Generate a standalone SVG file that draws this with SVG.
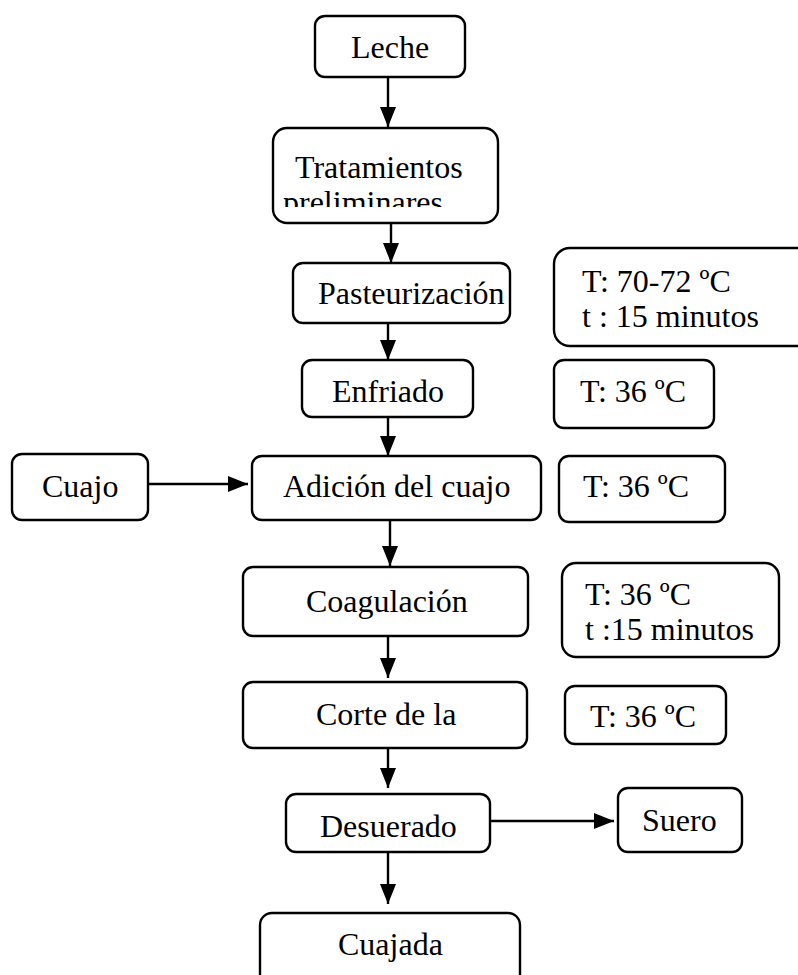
<svg xmlns="http://www.w3.org/2000/svg" width="798" height="975" viewBox="0 0 798 975">
<style>
.box{fill:#fff;stroke:#000;stroke-width:2.4}
.t{font-family:"Liberation Serif","Times New Roman",serif;font-size:32px;fill:#000}
.c{text-anchor:middle}
.ln{stroke:#000;stroke-width:2.4;fill:none;marker-end:url(#ah)}
</style>
<defs>
<marker id="ah" markerUnits="userSpaceOnUse" markerWidth="20" markerHeight="16" viewBox="0 0 20 16" refX="20" refY="8" orient="auto">
<path d="M0,0 L20,8 L0,16 Z" fill="#000"/>
</marker>
<clipPath id="clipTrat"><rect x="273" y="128" width="225" height="79"/></clipPath>
</defs>
<rect width="798" height="975" fill="#fff"/>
<g id="connectors">
<line class="ln" x1="388" y1="77" x2="388" y2="127"/>
<line class="ln" x1="391" y1="215" x2="391" y2="263"/>
<line class="ln" x1="388" y1="323" x2="388" y2="360"/>
<line class="ln" x1="388" y1="417" x2="388" y2="456"/>
<line class="ln" x1="148" y1="484" x2="248" y2="484"/>
<line class="ln" x1="390" y1="520" x2="390" y2="566"/>
<line class="ln" x1="388" y1="636" x2="388" y2="678"/>
<line class="ln" x1="388" y1="748" x2="388" y2="788"/>
<line class="ln" x1="490" y1="821" x2="614" y2="821"/>
<line class="ln" x1="388" y1="852" x2="388" y2="904"/>
</g>
<g id="leche"><rect class="box" x="315" y="16" width="150" height="61" rx="10"/><text class="t c" x="390" y="58">Leche</text></g>
<g id="tratamientos"><rect class="box" x="273" y="128" width="225" height="95" rx="14"/>
<g clip-path="url(#clipTrat)"><text class="t" x="295" y="178">Tratamientos</text><text class="t" x="283" y="213">preliminares</text></g></g>
<g id="pasteurizacion"><rect class="box" x="293" y="263" width="217" height="60" rx="10"/><text class="t" x="318" y="304">Pasteurización</text></g>
<g id="cond-past"><rect class="box" x="554" y="248" width="260" height="98" rx="16"/><text class="t" x="582" y="292">T: 70-72 ºC</text><text class="t" x="582" y="327">t : 15 minutos</text></g>
<g id="enfriado"><rect class="box" x="302" y="360" width="171" height="57" rx="10"/><text class="t c" x="388" y="402">Enfriado</text></g>
<g id="cond-enf"><rect class="box" x="554" y="360" width="160" height="68" rx="10"/><text class="t" x="580" y="402">T: 36 ºC</text></g>
<g id="cuajo"><rect class="box" x="12" y="454" width="136" height="66" rx="10"/><text class="t" x="42" y="497">Cuajo</text></g>
<g id="adicion"><rect class="box" x="252" y="456" width="289" height="64" rx="10"/><text class="t" x="283" y="497">Adición del cuajo</text></g>
<g id="cond-adi"><rect class="box" x="559" y="456" width="166" height="66" rx="10"/><text class="t" x="583" y="497">T: 36 ºC</text></g>
<g id="coagulacion"><rect class="box" x="243" y="567" width="285" height="69" rx="10"/><text class="t" x="306" y="612">Coagulación</text></g>
<g id="cond-coa"><rect class="box" x="562" y="563" width="217" height="94" rx="14"/><text class="t" x="585" y="605">T: 36 ºC</text><text class="t" x="585" y="640">t :15 minutos</text></g>
<g id="corte"><rect class="box" x="243" y="682" width="284" height="66" rx="10"/><text class="t" x="316" y="725">Corte de la</text></g>
<g id="cond-cor"><rect class="box" x="565" y="686" width="161" height="58" rx="10"/><text class="t" x="590" y="727">T: 36 ºC</text></g>
<g id="desuerado"><rect class="box" x="286" y="794" width="204" height="58" rx="10"/><text class="t" x="320" y="837">Desuerado</text></g>
<g id="suero"><rect class="box" x="618" y="788" width="124" height="64" rx="10"/><text class="t" x="642" y="831">Suero</text></g>
<g id="cuajada"><rect class="box" x="260" y="913" width="260" height="80" rx="12"/><text class="t" x="338" y="955">Cuajada</text></g>
</svg>
